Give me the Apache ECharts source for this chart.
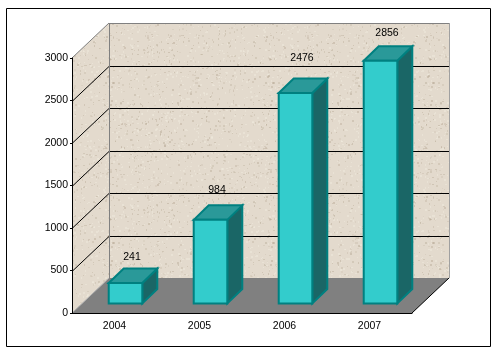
<!DOCTYPE html>
<html>
<head>
<meta charset="utf-8">
<style>
	html, body { margin: 0; padding: 0; background: #fff; }
	#main { width: 496px; height: 353px; }
</style>
<script src="https://cdn.jsdelivr.net/npm/echarts@6/dist/echarts.min.js"></script>
</head>
<body>
<div id="main"></div>
<script>
var categories = ['2004', '2005', '2006', '2007'];
var sales = [241, 984, 2476, 2856];
var yTicks = [0, 500, 1000, 1500, 2000, 2500, 3000];

// depth of the fake 3d box
var WALL_DX = 37, WALL_DY = 35;
var BAR_DX = 15, BAR_DY = 14.5;
var BAR_SHIFT_X = 11, BAR_SHIFT_Y = 9.5;
var FONT = '10.5px "Liberation Sans", Arial, sans-serif';
// the value labels do not sit at a constant distance over the bars
var labelLift = [10, 14, 19, 12];

// speckled paper texture for the walls
function makeTexture() {
	var c = document.createElement('canvas');
	c.width = c.height = 160;
	var ctx = c.getContext('2d');
	ctx.fillStyle = '#e3dacd';
	ctx.fillRect(0, 0, 160, 160);
	var seed = 12345;
	function next() {
		seed = (seed * 1103515245 + 12345) & 0x7fffffff;
		return seed / 0x7fffffff;
	}
	for (var i = 0; i < 1500; i++) {
		var dark = next() > 0.45;
		ctx.fillStyle = dark ? 'rgba(185,172,152,' + (0.15 + next() * 0.35) + ')' : 'rgba(240,233,222,0.5)';
		ctx.fillRect(Math.floor(next() * 160), Math.floor(next() * 160), 1 + Math.floor(next() * 2), 1 + Math.floor(next() * 2));
	}
	return c;
}
var wallFill = { image: makeTexture(), repeat: 'repeat' };

function poly(points, fill, stroke, width) {
	return {
		type: 'polygon',
		shape: { points: points },
		style: { fill: fill, stroke: stroke || null, lineWidth: width || 0 }
	};
}

function renderWalls(params, api) {
	var box = params.coordSys;
	var l = box.x, t = box.y, r = box.x + box.width, b = box.y + box.height;
	var kids = [
		poly([[l, t], [l + WALL_DX, t - WALL_DY], [l + WALL_DX, b - WALL_DY], [l, b]], wallFill),
		poly([[l + WALL_DX, t - WALL_DY], [r + WALL_DX, t - WALL_DY], [r + WALL_DX, b - WALL_DY], [l + WALL_DX, b - WALL_DY]], wallFill),
		poly([[l, b], [r, b], [r + WALL_DX, b - WALL_DY], [l + WALL_DX, b - WALL_DY]], '#808080')
	];
	function line(x1, y1, x2, y2, color) {
		kids.push({
			type: 'line',
			shape: { x1: x1, y1: y1, x2: x2, y2: y2 },
			style: { stroke: color, lineWidth: 1 }
		});
	}
	yTicks.forEach(function(v) {
		if (v === 0 || v === 3000) return;
		var y = Math.round(api.coord([0, v])[1]) + 0.5;
		line(l, y, l + WALL_DX, y - WALL_DY, '#000');
		line(l + WALL_DX, y - WALL_DY, r + WALL_DX, y - WALL_DY, '#000');
	});
	line(l, t, l + WALL_DX, t - WALL_DY, '#808080');
	line(l + WALL_DX + 0.5, t - WALL_DY + 0.5, r + WALL_DX + 0.5, t - WALL_DY + 0.5, '#808080');
	line(l + WALL_DX + 0.5, t - WALL_DY, l + WALL_DX + 0.5, b - WALL_DY, '#808080');
	line(r + WALL_DX + 0.5, t - WALL_DY, r + WALL_DX + 0.5, b - WALL_DY, '#a0a0a0');
	line(l, b, l + WALL_DX, b - WALL_DY, '#b0b0b0');
	line(r, b, r + WALL_DX, b - WALL_DY, '#000');
	return { type: 'group', children: kids };
}

function renderBar(params, api) {
	var top = api.coord([api.value(0), api.value(1)]);
	var base = api.coord([api.value(0), 0]);
	var w = api.size([1, 0])[0] * 0.395;
	var x0 = top[0] + BAR_SHIFT_X - w / 2, x1 = x0 + w;
	var y0 = top[1] - BAR_SHIFT_Y, y1 = base[1] - BAR_SHIFT_Y;
	var edge = '#008080';
	return {
		type: 'group',
		children: [
			poly([[x1, y0], [x1 + BAR_DX, y0 - BAR_DY], [x1 + BAR_DX, y1 - BAR_DY], [x1, y1]], '#1a6666', edge, 2),
			poly([[x0, y0], [x0 + BAR_DX, y0 - BAR_DY], [x1 + BAR_DX, y0 - BAR_DY], [x1, y0]], '#2a9999', edge, 2),
			{
				type: 'rect',
				shape: { x: x0, y: y0, width: w, height: y1 - y0 },
				style: { fill: '#33cccc', stroke: edge, lineWidth: 2 }
			},
			{
				type: 'text',
				style: {
					text: String(api.value(1)),
					x: (x0 + x1) / 2 + 6.5,
					y: y0 - BAR_DY - 1 - labelLift[params.dataIndex],
					align: 'center',
					verticalAlign: 'middle',
					font: FONT,
					fill: '#000'
				}
			}
		]
	};
}

var myChart = echarts.init(document.getElementById('main'), null, { renderer: 'canvas' });

var option = {
	animation: false,
	backgroundColor: '#fff',
	graphic: [{
		type: 'rect',
		silent: true,
		z: -1,
		shape: { x: 6.5, y: 8.5, width: 484, height: 338 },
		style: { fill: '#fff', stroke: '#000', lineWidth: 1 }
	}],
	grid: { left: 72, top: 58, width: 340, height: 255 },
	xAxis: {
		type: 'category',
		data: categories,
		z: 10,
		axisLine: { lineStyle: { color: '#000', width: 1 } },
		axisTick: { length: 3, alignWithLabel: false, lineStyle: { color: '#000' } },
		axisLabel: { color: '#000', fontSize: 10.5, fontFamily: '"Liberation Sans", Arial', margin: 8 }
	},
	yAxis: {
		type: 'value',
		min: 0,
		max: 3000,
		interval: 500,
		z: 10,
		splitLine: { show: false },
		axisLine: { show: true, lineStyle: { color: '#000', width: 1 } },
		axisTick: { show: true, length: 2, lineStyle: { color: '#000' } },
		axisLabel: {
			color: '#000',
			fontSize: 10.5,
			fontFamily: '"Liberation Sans", Arial',
			margin: 4,
			formatter: function(v) { return String(v); }
		}
	},
	series: [
		{
			type: 'custom',
			silent: true,
			z: 1,
			clip: false,
			renderItem: renderWalls,
			data: [[0, 0]]
		},
		{
			type: 'custom',
			z: 2,
			clip: false,
			renderItem: renderBar,
			encode: { x: 0, y: 1 },
			data: categories.map(function(c, i) { return [i, sales[i]]; })
		}
	]
};
myChart.setOption(option);
</script>
</body>
</html>
